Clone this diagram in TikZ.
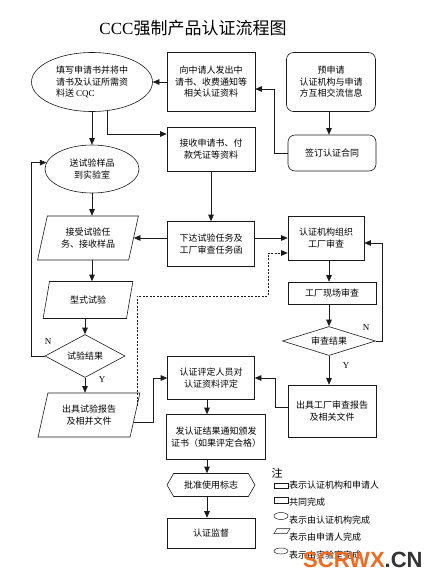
\documentclass[tikz,border=0pt]{standalone}
\usepackage{fontspec}
\setmainfont{Noto Sans CJK SC}
\newfontfamily\latinserif{Liberation Serif}
\newfontfamily\wmfont{Liberation Sans}
\usetikzlibrary{shapes.geometric,shapes.symbols,arrows.meta,calc}
\definecolor{wmorange}{HTML}{F26A21}
\definecolor{wmgrey}{HTML}{333333}
\definecolor{ink}{HTML}{1A1A1A}
\tikzset{
  base/.style={draw=ink, line width=0.6pt, font=\fontsize{9}{11.5}\selectfont, align=center, inner sep=1pt},
  box/.style={base, rectangle},
  rbox/.style={base, rectangle, rounded corners=7pt},
  oval/.style={base, ellipse, inner sep=0pt},
  para/.style={base, trapezium, trapezium left angle=73, trapezium right angle=107, trapezium stretches=true},
  dia/.style={base, diamond, aspect=2, inner sep=0pt},
  hexa/.style={base, signal, signal to=west and east, signal pointer angle=120},
  arr/.style={draw=ink, line width=0.6pt, -{Triangle[length=6.5pt,width=5.5pt]}},
  dsh/.style={arr, dash pattern=on 2pt off 1.5pt},
  lbl/.style={font=\latinserif\fontsize{9}{9}\selectfont, inner sep=0pt},
  legtxt/.style={anchor=west, font=\fontsize{9}{9}\selectfont, inner sep=0pt},
  legshape/.style={draw=ink, line width=0.5pt, inner sep=0pt}
}
\begin{document}
\begin{tikzpicture}[x=1pt,y=-1pt]
\useasboundingbox[fill=white] (0,0) rectangle (441,581);

% title
\node[font=\fontsize{17}{17}\selectfont, inner sep=0pt] (title) at (193,28) {{\latinserif CCC}强制产品认证流程图};

% nodes
\node[oval, align=left, minimum width=121pt, minimum height=59pt] (e1) at (92,82) {填写申请书并将中\\请书及认证所需资\\料送 {\latinserif CQC}};
\node[box, minimum width=88pt, minimum height=59pt] (b1) at (211,82) {向中请人发出中\\请书、收费通知等\\相关认证资料};
\node[rbox, minimum width=89pt, minimum height=59pt] (b0) at (331,82) {预申请\\认证机构与申请\\方互相交流信息};
\node[rbox, minimum width=88pt, minimum height=36pt] (b2) at (332,153) {签订认证合同};
\node[box, minimum width=88pt, minimum height=44pt] (b3) at (211,149) {接收申请书、付\\款凭证等资料};
\node[oval, minimum width=94pt, minimum height=48pt] (e2) at (92,169) {送试验样品\\到实验室};
\node[para, minimum width=101pt, minimum height=44pt] (p1) at (88,238) {接受试验任\\务、接收样品};
\node[box, minimum width=87pt, minimum height=45pt] (b4) at (211,244) {下达试验任务及\\工厂审查任务函};
\node[box, minimum width=76pt, minimum height=44pt] (b5) at (326,238) {认证机构组织\\工厂审查};
\node[para, minimum width=90pt, minimum height=37pt] (p2) at (88,300) {型式试验};
\node[box, minimum width=88pt, minimum height=22pt] (b6) at (332,293) {工厂现场审查};
\node[dia, minimum width=80pt, minimum height=43pt] (d1) at (85,356) {试验结果};
\node[dia, minimum width=93pt, minimum height=29pt] (d2) at (329,341) {审查结果};
\node[box, minimum width=87pt, minimum height=43pt] (b7) at (211,378) {认证评定人员对\\认证资料评定};
\node[box, minimum width=88pt, minimum height=52pt] (b8) at (332,411) {出具工厂审查报告\\及相关文件};
\node[para, minimum width=102pt, minimum height=44pt] (p3) at (89,415) {出具试验报告\\及相并文件};
\node[box, minimum width=99pt, minimum height=45pt] (b9) at (216,437) {发认证结果通知颁发\\证书（如果评定合格）};
\node[hexa, minimum width=88pt, minimum height=23pt] (h1) at (211,485) {批准使用标志};
\node[box, minimum width=88pt, minimum height=30pt] (b10) at (211,533) {认证监督};

% labels
\node[lbl] (n1) at (48,342) {N};
\node[lbl] (y1) at (102,380) {Y};
\node[lbl] (n2) at (366,328) {N};
\node[lbl] (y2) at (346,366) {Y};

% helper coordinates
\coordinate (k1) at (274,89);
\coordinate (k2) at (0,134);
\coordinate (k3) at (31,0);
\coordinate (dA) at (137,296);
\coordinate (dB) at (268,296);
\coordinate (k5) at (382,0);
\coordinate (k6) at (275,0);
\coordinate (k7) at (153,0);
\coordinate (kx) at (207,0);
\coordinate (kz) at (329,0);
\coordinate (b8o) at ($(b8.west)+(0,-4)$);
\coordinate (p3o) at ($(p3.east)!0.32!(p3.bottom right corner)$);
\coordinate (p3d) at ($(p3.east)!0.45!(p3.top right corner)$);

% connectors
\draw[arr] (b1.west) -- (e1.east);
\draw[arr] (b2.west) -| (k1) -- (k1 -| b1.east);
\draw[arr] (kz |- b0.south) -- (kz |- b2.north);
\draw[arr] (e1.south) -- (e1.south |- e2.north);
\draw[arr] (e1.-62) |- (k2 -| b3.west);
\draw[arr] (b3.south) -- (b4.north);
\draw[arr] (b4.west |- p1.east) -- (p1.east);
\draw[arr] (b4.east |- b5.west) -- (b5.west);
\draw[arr] (e2.south) -- (e2.south |- p1.north);
\draw[arr] (e2.south |- p1.south) -- (e2.south |- p2.north);
\draw[arr] (d1.north |- p2.south) -- (d1.north);
\draw[arr] (d1.west) -- (d1.west -| k3) |- (e2.172);
\draw[arr] (d1.south) -- (d1.south |- p3.north);
\draw[dsh] (p3d) -| (dA) -- (dB) |- ($(b5.west)+(0,15)$);
\draw[arr] (kz |- b5.south) -- (kz |- b6.north);
\draw[arr] (kz |- b6.south) -- (d2.north);
\draw[arr] (d2.east) -- (d2.east -| k5) |- ($(b5.east)+(0,5)$);
\draw[arr] (d2.south) -- (d2.south |- b8.north);
\draw[arr] (b8o) -- (b8o -| k6) |- (b7.east);
\draw[arr] (p3o) -- (p3o -| k7) |- (b7.west);
\draw[arr] (kx |- b7.south) -- (kx |- b9.north);
\draw[arr] (kx |- b9.south) -- (kx |- h1.north);
\draw[arr] (kx |- h1.south) -- (kx |- b10.north);

% legend
\node[font=\fontsize{11}{11}\selectfont, inner sep=0pt] (lgh) at (277,473) {注};
\node[legshape, rectangle, minimum width=14pt, minimum height=5pt] (lg1) at (281,486) {};
\node[legtxt] (t1) at (289,485) {表示认证机构和申请人};
\node[legshape, rectangle, minimum width=14pt, minimum height=6pt] (lg2) at (281,500) {};
\node[legtxt] (t2) at (289,502) {共同完成};
\node[legshape, ellipse, minimum width=14pt, minimum height=7pt] (lg3) at (281,516) {};
\node[legtxt] (t3) at (289,520) {表示由认证机构完成};
\coordinate (lg4) at (282,531);
\draw[draw=ink, line width=0.5pt] ($(lg4)+(-8,2.5)$) -- ($(lg4)+(-5,-2.5)$) -- ($(lg4)+(8,-2.5)$) -- ($(lg4)+(5,2.5)$) -- cycle;
\node[legtxt] (t4) at (289,537) {表示由申请人完成};
\node[legshape, ellipse, minimum width=14pt, minimum height=6pt] (lg5) at (281,551) {};
\node[legtxt] (t5) at (289,555) {表示由实验室完成};

% watermark
\node[anchor=west, inner sep=0pt, font=\wmfont\bfseries\fontsize{22}{22}\selectfont] (wm) at (303,560) {\textcolor{wmorange}{SCRWX}\textcolor{wmgrey}{.CN}};
\end{tikzpicture}
\end{document}
